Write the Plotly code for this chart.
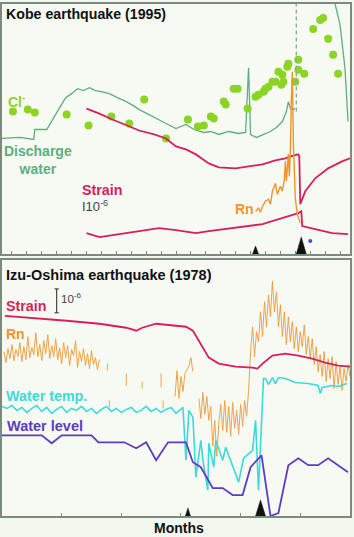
import plotly.graph_objects as go

# ---------------- Kobe earthquake (1995) panel ----------------
# x: days after first month tick, y: relative level (arbitrary units)
kobe_cl_days = [2, 32, 46, 110, 154, 200, 236, 266, 310, 354, 374, 386, 400, 406, 426,
                430, 446, 454, 474, 490, 496, 506, 510, 516, 524, 530, 536, 542, 546, 544,
                554, 556, 570, 576, 576, 588, 606, 620, 626, 636, 646, 656]
kobe_cl_level = [143, 145, 142, 140, 129, 138, 131, 155, 116, 135, 128, 129, 138, 136, 153,
                 150, 166, 166, 146, 158, 160, 163, 166, 168, 173, 173, 183, 170, 173, 180,
                 188, 191, 173, 195, 185, 181, 226, 235, 237, 216, 200, 181]

kobe_discharge_days = [-20, 16, 44, 46, 70, 80, 90, 96, 108, 120, 132, 144, 156, 168, 180,
                       196, 212, 230, 244, 256, 272, 290, 306, 330, 350, 366, 386, 400, 416,
                       436, 456, 470, 474, 476, 478, 480, 492, 506, 520, 532, 544, 552, 556,
                       560, 566, 570, None, 650, 660, 670, 676]
kobe_discharge_level = [116, 117, 115, 125, 125, 133, 141, 147, 157, 161, 166, 164, 167, 164, 163,
                        161, 157, 153, 149, 145, 141, 136, 132, 126, 130, 125, 122, 123, 120,
                        123, 121, 122, 173, 187, 153, 120, 117, 120, 123, 127, 133, 143, 153,
                        146, 145, 146, None, 251, 230, 186, 133]

kobe_strain_a_days = [150, 176, 202, 230, 256, 286, 310, 330, 350, 370, 396, 416, 450, 476,
                      504, 530, 550, 560, 576, 578, 580, 590, 610, 636, 664, 680]
kobe_strain_a_level = [146, 141, 135, 129, 124, 120, 116, 108, 105, 100, 91, 87, 86, 88,
                       90, 94, 96, 98, 100, 98, 50, 63, 76, 86, 93, 96]

kobe_strain_b_days = [150, 176, 216, 256, 296, 330, 370, 396, 430, 464, 504, 530, 556, 576,
                      582, 584, 610, 644, 676]
kobe_strain_b_level = [21, 17, 20, 23, 26, 24, 21, 23, 25, 27, 30, 34, 38, 41,
                       43, 28, 25, 21, 20]

kobe_rn_days = [490, 496, 500, 504, 510, 516, 520, 524, 530, 534, 540, 544, 548, 550, 552,
                556, 558, 560, 562, 564, 566, 568, 570, 574, 578, 580]
kobe_rn_level = [43, 46, 42, 48, 53, 55, 50, 63, 71, 60, 68, 63, 75, 93, 73,
                 100, 78, 103, 153, 183, 113, 68, 56, 40, 35, 31]

kobe_event_days = [490, 582]
kobe_event_class = ["small", "large"]
kobe_dashed_day = 572
kobe_dot_day, kobe_dot_level = 600, 13

# ---------------- Izu-Oshima earthquake (1978) panel ----------------
# x: months, y: relative level
izu_strain_months = [0.3, 3.1, 6.5, 9.8, 12.5, 13.5, 14.1, 15.5, 17.5, 18.5, 19.2, 20.2, 20.8,
                     21.8, 23.5, 25.2, 25.7, 26.2, 27.2, 28.5, 29.8, 31.2, 32.5, 33.8, 35.0]
izu_strain_level = [201, 199, 196, 193, 189, 186, 189, 193, 191, 190, 186, 169, 159,
                    153, 150, 149, 148, 153, 161, 163, 161, 158, 154, 151, 150]

izu_wlevel_months = [0, 4.0, 5.0, 6.0, 9.0, 9.7, 12.3, 13.5, 14.5, 15.5, 16.7, 18.5, 19.2, 20.0,
                     21.2, 22.2, 23.2, 24.2, 25.0, 26.1, 27.0, 27.8, 28.8, 29.8, 30.8, 31.8,
                     32.8, 33.8, 34.8]
izu_wlevel_level = [81, 81, 73, 81, 81, 74, 74, 68, 74, 56, 74, 74, 54, 49,
                    28, 28, 21, 21, 49, 61, 0, 3, 51, 58, 51, 51, 58, 51, 44]

izu_wtemp_months = [0.0, 0.5, 1.0, 1.5, 2.0, 2.5, 3.0, 3.5, 4.0, 4.5, 5.0, 5.5, 6.0, 6.5, 7.0,
                    7.5, 8.0, 8.5, 9.0, 9.5, 10.0, 10.5, 11.0, 11.5, 12.0, 12.5, 13.0, 13.5,
                    14.0, 14.5, 15.0, 15.5, 16.0, 16.5, 17.0,
                    17.5, 18.2, 18.5, 18.8, 19.2, 19.5, 20.0, 20.2, 20.7, 20.8, 21.3, 21.5,
                    22.2, 22.5, 23.8, 24.3, 25.2, 25.5, 25.8, 26.2, 26.3, 26.5, 26.8, 27.2,
                    27.5, 27.8, 28.5, 29.5, 30.8, 31.8, 32.0, 32.2, 33.2, 33.8, 34.7]
izu_wtemp_level = [110, 108, 111, 106, 109, 104, 108, 111, 105, 109, 103, 107, 110, 104, 108,
                   106, 110, 105, 108, 103, 107, 110, 105, 108, 104, 107, 109, 104,
                   106, 110, 105, 108, 104, 107, 109,
                   103, 109, 56, 106, 99, 39, 76, 56, 26, 73, 49, 76,
                   56, 69, 34, 58, 66, 96, 26, 116, 138, 138, 132, 139,
                   133, 139, 138, 134, 133, 131, 123, 129, 131, 130, 133]

izu_rn_months = [0.2, 0.4, 0.6, 0.8, 1.0, 1.2, 1.4, 1.6, 1.8, 2.0,
                 2.2, 2.4, 2.6, 2.8, 3.0, 3.2, 3.4, 3.6, 3.8, 4.0,
                 4.2, 4.4, 4.6, 4.8, 5.0, 5.2, 5.4, 5.6, 5.8, 6.0,
                 6.2, 6.4, 6.6, 6.8, 7.0, 7.2, 7.4, 7.6, 7.8, 8.0,
                 8.2, 8.4, 8.6, 8.8, 9.0, 9.2, 9.4, 9.6, 9.8, None,
                 10.6, 10.6, None, 10.8, 10.8, None, 12.5, 12.5, None, 14.1, 14.1, None,
                 16.0, 16.0, None, 16.2, 16.2, None,
                 17.4, 17.6, 17.8, 18.0, 18.2, 18.4, 18.8, 19.0, 19.2, None,
                 19.8, 20.0, 20.2, 20.4, 20.6, 20.8, 21.0, 21.2, 21.4, 21.6, 21.8, 22.0,
                 22.2, 22.4, 22.6, 22.8, 23.0, 23.2, 23.4, 23.6, 23.8, 24.0, 24.2, 24.4,
                 24.6, 24.8,
                 25.0, 25.2, 25.4, 25.6, 25.8, 26.0, 26.2, 26.4, 26.6, 26.8, 27.0, 27.2,
                 27.4, 27.6, 27.8, 28.0, 28.2, 28.4, 28.6, 28.8, 29.0, 29.2, 29.4, 29.6,
                 29.8, 30.0, 30.2, 30.4, 30.6, 30.8, 31.0, 31.2, 31.4, 31.6, 31.8, 32.0,
                 32.2, 32.4, 32.6, 32.8, 33.0, 33.2, 33.4, 33.6, 33.8, 34.0, 34.2, 34.4,
                 34.6, 34.8, 35.0]
izu_rn_level = [165, 154, 168, 158, 172, 156, 167, 160, 174, 155,
                170, 157, 180, 159, 169, 162, 184, 160, 172, 156,
                176, 163, 182, 158, 171, 160, 178, 157, 169, 153,
                174, 159, 171, 151, 167, 161, 176, 149, 165, 155,
                168, 151, 163, 148, 166, 152, 159, 147, 157, None,
                146, 153, None, 109, 116, None, 131, 143, None, 128, 135, None,
                129, 143, None, 108, 116, None,
                120, 146, 118, 140, 125, 143, 150, 159, 145, None,
                118, 98, 124, 102, 120, 96, 110, 70, 96, 60, 92, 112,
                86, 116, 84, 110, 80, 114, 88, 106, 82, 112, 90, 116,
                100, 126,
                165, 190, 160, 185, 175, 205, 180, 215, 190, 222, 200, 236,
                205, 225, 190, 212, 180, 205, 172, 200, 175, 195, 168, 190,
                165, 185, 170, 192, 162, 180, 158, 178, 152, 170, 145, 162,
                140, 165, 135, 158, 138, 160, 128, 155, 132, 150, 126, 148,
                135, 152, 140]

izu_event_months = [18.7, 26.0]
izu_event_class = ["small", "large"]

# ---------------- styling ----------------
FONT = "Liberation Sans, Arial, Helvetica, sans-serif"
C_STRAIN = "#d81e5b"
C_RN = "#f0942e"
C_CL = "#8cd424"
C_DIS = "#5fae7c"
C_WT = "#3ddada"
C_WL = "#5a3dc4"
C_BOX = "#7b8c7e"

fig = go.Figure()


def line(x, y, color, width, ax, dash=None, opacity=1.0):
    fig.add_trace(go.Scatter(x=x, y=y, mode="lines", xaxis=ax[0], yaxis=ax[1],
                             line=dict(color=color, width=width, dash=dash),
                             opacity=opacity, connectgaps=False,
                             showlegend=False, hoverinfo="skip"))


TOP = ("x", "y")
BOT = ("x2", "y2")

# Kobe panel
line(kobe_discharge_days, kobe_discharge_level, C_DIS, 1.3, TOP)
fig.add_trace(go.Scatter(x=kobe_cl_days, y=kobe_cl_level, mode="markers", xaxis="x", yaxis="y",
                         marker=dict(color=C_CL, size=8, line=dict(width=0)),
                         showlegend=False, hoverinfo="skip"))
line(kobe_strain_a_days, kobe_strain_a_level, C_STRAIN, 1.8, TOP)
line(kobe_strain_b_days, kobe_strain_b_level, C_STRAIN, 1.8, TOP)
line(kobe_rn_days, kobe_rn_level, C_RN, 1.4, TOP)
fig.add_shape(type="line", xref="x", yref="y", x0=kobe_dashed_day, x1=kobe_dashed_day,
              y0=143, y1=251, line=dict(color="#7fae93", width=1.3, dash="4px,3px"))
fig.add_trace(go.Scatter(x=[kobe_dot_day], y=[kobe_dot_level], mode="markers", xaxis="x",
                         yaxis="y", marker=dict(color="#3355dd", size=4),
                         showlegend=False, hoverinfo="skip"))

TRI_TOP = {"small": (6, 8), "large": (10, 17)}      # half-width (days), height
TRI_BOT = {"small": (0.25, 8), "large": (0.5, 16)}  # half-width (months), height
for d, c in zip(kobe_event_days, kobe_event_class):
    hw, h = TRI_TOP[c]
    fig.add_trace(go.Scatter(x=[d - hw, d, d + hw, d - hw], y=[0, h, 0, 0], mode="lines",
                             fill="toself", fillcolor="#111", line=dict(color="#111", width=0.5),
                             xaxis="x", yaxis="y", showlegend=False, hoverinfo="skip"))

# Izu-Oshima panel
line(izu_rn_months, izu_rn_level, C_RN, 1.0, BOT, opacity=0.85)
line(izu_strain_months, izu_strain_level, C_STRAIN, 1.8, BOT)
line(izu_wtemp_months, izu_wtemp_level, C_WT, 1.6, BOT)
line(izu_wlevel_months, izu_wlevel_level, C_WL, 1.8, BOT)
for m, c in zip(izu_event_months, izu_event_class):
    hw, h = TRI_BOT[c]
    fig.add_trace(go.Scatter(x=[m - hw, m, m + hw, m - hw], y=[0, h, 0, 0], mode="lines",
                             fill="toself", fillcolor="#111", line=dict(color="#111", width=0.5),
                             xaxis="x2", yaxis="y2", showlegend=False, hoverinfo="skip"))

axis_common = dict(showline=True, mirror=True, linecolor=C_BOX, linewidth=2, showgrid=False,
                   zeroline=False, showticklabels=False, fixedrange=True)

fig.update_layout(
    width=354, height=537,
    margin=dict(l=2, r=2, t=2, b=21),
    paper_bgcolor="#f3f8ef", plot_bgcolor="#f6faf3",
    font=dict(family=FONT),
    xaxis=dict(domain=[0, 1], range=[-20, 680], anchor="y", ticks="inside", tick0=0, dtick=30,
               ticklen=3, tickcolor=C_BOX, tickwidth=1, **axis_common),
    yaxis=dict(domain=[0.5117, 1], range=[0, 251], anchor="x", ticks="", **axis_common),
    xaxis2=dict(domain=[0, 1], range=[0, 35], anchor="y2", ticks="inside", tick0=0, dtick=6,
                ticklen=3, tickcolor=C_BOX, tickwidth=1, **axis_common),
    yaxis2=dict(domain=[0, 0.5], range=[0, 257], anchor="x2", ticks="", **axis_common),
)


def label(text, x, y, color, size=13, bold=True, xref="x domain", yref="y domain", xanchor="left"):
    fig.add_annotation(text=f"<b>{text}</b>" if bold else text, x=x, y=y, xref=xref, yref=yref,
                       xanchor=xanchor, yanchor="middle", showarrow=False, borderpad=0,
                       font=dict(family=FONT, size=size, color=color), align="center")


B2 = dict(xref="x2 domain", yref="y2 domain")

# top panel labels (domain coordinates)
label("Kobe earthquake (1995)", 0.008, 0.960, "#111", 14.2)
label("Cl<sup>-</sup>", 0.014, 0.614, C_CL, 14)
label("Discharge<br>water", 0.103, 0.3745, C_DIS, 14, xanchor="center")
label("Strain", 0.228, 0.255, C_STRAIN, 14.3)
label("I10<sup>-6</sup>", 0.228, 0.191, "#444", 13, bold=False)
label("Rn", 0.668, 0.179, C_RN, 14)

# bottom panel labels
label("Izu-Oshima earthquake (1978)", 0.008, 0.942, "#111", 14.5, **B2)
label("Strain", 0.008, 0.821, C_STRAIN, 14.3, **B2)
label("10<sup>-6</sup>", 0.168, 0.852, "#444", 11.5, bold=False, **B2)
label("Rn", 0.008, 0.712, C_RN, 14, **B2)
label("Water temp.", 0.008, 0.467, C_WT, 14.3, **B2)
label("Water level", 0.011, 0.350, C_WL, 14.5, **B2)
label("Months", 0.5086, -0.0233, "#111", 14, xref="paper", yref="paper", xanchor="center")

# scale bar (10^-6 strain) in bottom panel
for y0, y1, x0, x1 in [(0.3969, 0.4436, 0.157, 0.157), (0.4436, 0.4436, 0.151, 0.163),
                       (0.3969, 0.3969, 0.151, 0.163)]:
    fig.add_shape(type="line", xref="paper", yref="paper", x0=x0, x1=x1, y0=y0, y1=y1,
                  line=dict(color="#444", width=1.2))

fig.write_html("out.html", config={"displayModeBar": False, "staticPlot": True},
               post_script="document.body.style.margin='0';")
